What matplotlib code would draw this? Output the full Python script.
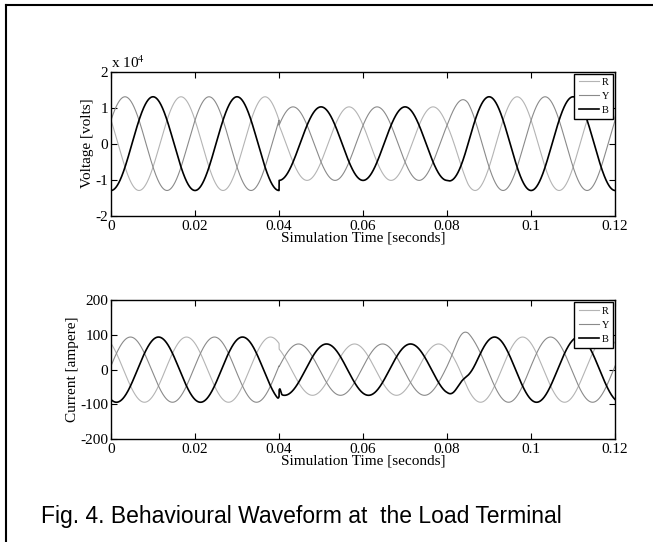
import numpy as np
import matplotlib
matplotlib.use("Agg")
import matplotlib.pyplot as plt
from matplotlib.lines import Line2D
from matplotlib.ticker import FuncFormatter

plt.rcParams["font.family"] = ["Liberation Serif", "DejaVu Serif"]
plt.rcParams["axes.unicode_minus"] = False
plt.rcParams["mathtext.fontset"] = "stix"

# =============================================================================
# Data (50 Hz three-phase, R / Y / B)
# =============================================================================
freq = 50.0
t_end = 0.12
phase_names = ["R", "Y", "B"]
phase_shift = [np.pi / 3, -np.pi / 3, np.pi]       # rad, relative to B trough at t=0
phase_colors = ["#b4b4b4", "#8a8a8a", "#000000"]
phase_widths = [0.8, 0.8, 1.2]

# amplitude segments: start, end, amplitude at start, amplitude at end
seg_start = [0.0, 0.04, 0.08, 0.085]
seg_end = [0.04, 0.08, 0.085, 0.12]
volt_amp_start = [1.30, 1.02, 1.02, 1.30]           # x 10^4 volts
volt_amp_end = [1.30, 1.02, 1.30, 1.30]
curr_amp_start = [94, 74, 74, 94]                   # ampere
curr_amp_end = [94, 74, 94, 94]
curr_lag = 0.0013                                   # s, current behind voltage

# switching transients on the current (centre, width, R, Y, B offsets)
tr_centre = [0.0402, 0.0835]
tr_width = [0.0002, 0.0015]
tr_R = [0, 0]
tr_Y = [0, 20]
tr_B = [14, 35]

x_ticks = [0, 0.02, 0.04, 0.06, 0.08, 0.1, 0.12]
v_ticks = [-2, -1, 0, 1, 2]
i_ticks = [-200, -100, 0, 100, 200]
caption = "Fig. 4. Behavioural Waveform at  the Load Terminal"

# =============================================================================
# Build the waveforms
# =============================================================================
t = np.linspace(0, t_end, 12001)


def envelope(a0, a1):
    env = np.zeros_like(t)
    for s, e, p, q in zip(seg_start, seg_end, a0, a1):
        m = (t >= s) & (t <= e)
        env[m] = p + (q - p) * (t[m] - s) / (e - s)
    return env


v_env = envelope(volt_amp_start, volt_amp_end)
i_env = envelope(curr_amp_start, curr_amp_end)
w = 2 * np.pi * freq

volts = [-v_env * np.cos(w * t + ph - np.pi) for ph in phase_shift]
amps = [-i_env * np.cos(w * (t - curr_lag) + ph - np.pi) for ph in phase_shift]
for k, offs in enumerate([tr_R, tr_Y, tr_B]):
    for c, s, a in zip(tr_centre, tr_width, offs):
        amps[k] = amps[k] + a * np.exp(-(t - c) ** 2 / (2 * s ** 2))

# =============================================================================
# Plot
# =============================================================================
fig = plt.figure(figsize=(6.53, 5.42), dpi=100)
ax1 = fig.add_axes([0.170, 0.602, 0.772, 0.266])
ax2 = fig.add_axes([0.170, 0.190, 0.772, 0.256])

for ax, data, ticks, ylab in [(ax1, volts, v_ticks, "Voltage [volts]"),
                              (ax2, amps, i_ticks, "Current [ampere]")]:
    for y, name, col, lw in zip(data, phase_names, phase_colors, phase_widths):
        ax.plot(t, y, color=col, lw=lw, label=name)
    ax.set_xlim(0, t_end)
    ax.set_ylim(ticks[0], ticks[-1])
    ax.set_xticks(x_ticks)
    ax.set_yticks(ticks)
    ax.xaxis.set_major_formatter(FuncFormatter(lambda v, p: "%g" % v))
    ax.tick_params(direction="in", top=True, right=True, length=4,
                   width=0.8, labelsize=11)
    ax.tick_params(axis="x", pad=3)
    ax.tick_params(axis="y", pad=2)
    for sp in ax.spines.values():
        sp.set_linewidth(1.0)
    ax.set_xlabel("Simulation Time [seconds]", fontsize=11, labelpad=-1)
    ax.set_ylabel(ylab, fontsize=11, labelpad=1)
    leg = ax.legend(loc="upper right", fontsize=7.5, fancybox=False,
                    handlelength=2.0, handletextpad=0.2, borderpad=0.4,
                    labelspacing=0.45, borderaxespad=0.2, framealpha=1)
    leg.get_frame().set_edgecolor("black")
    leg.get_frame().set_linewidth(1.0)

ax1.text(0.0, 1.005, r"x 10$^{4}$", transform=ax1.transAxes, fontsize=11,
         ha="left", va="bottom")

fig.text(0.462, 0.047, caption, family="Liberation Sans", fontsize=16.5,
         ha="center", va="center")

# frame lines (top and left)
fig.add_artist(Line2D([0.009, 1.0], [0.99, 0.99], color="black", lw=1.5,
                      transform=fig.transFigure))
fig.add_artist(Line2D([0.009, 0.009], [0.0, 0.99], color="black", lw=1.5,
                      transform=fig.transFigure))

fig.savefig("out.png", dpi=100)
